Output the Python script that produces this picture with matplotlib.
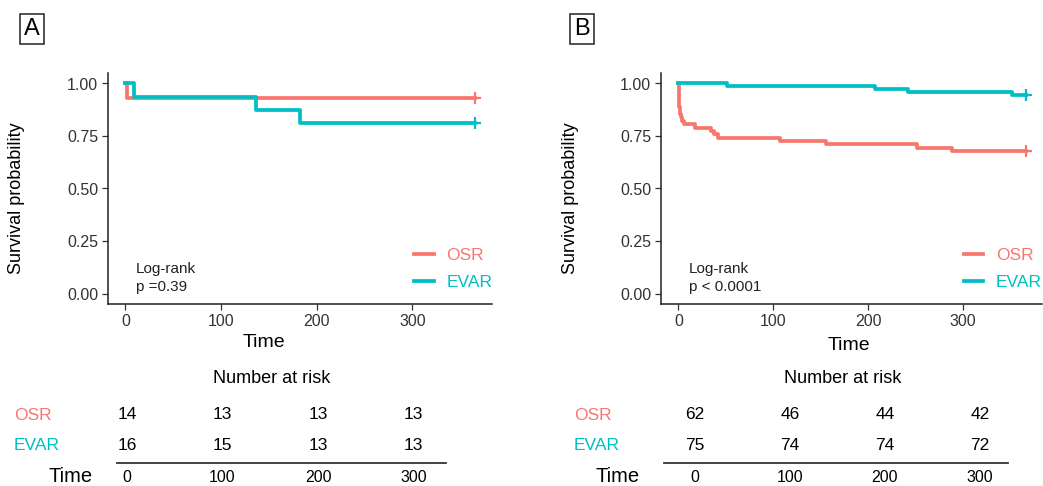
import matplotlib.pyplot as plt

plt.rcParams['font.family'] = ['Liberation Sans', 'DejaVu Sans']

osr_color = '#F8766D'
evar_color = '#00BFC4'

# panel A: survival curves (step points)
osr_a_t = [0, 2, 365]
osr_a_s = [1.0, 0.929, 0.929]
evar_a_t = [0, 9, 137, 182, 365]
evar_a_s = [1.0, 0.9375, 0.875, 0.8125, 0.8125]

# panel B: survival curves (step points)
osr_b_t = [0, 0.5, 1, 2, 3, 4, 6, 18, 34, 38, 42, 107, 156, 251, 288, 366]
osr_b_s = [1.0, 0.935, 0.887, 0.855, 0.839, 0.823, 0.806, 0.790, 0.774,
           0.758, 0.742, 0.726, 0.710, 0.694, 0.677, 0.677]
evar_b_t = [0, 51, 207, 242, 352, 357, 366]
evar_b_s = [1.0, 0.987, 0.973, 0.960, 0.947, 0.945, 0.945]

# number at risk tables
risk_times = [0, 100, 200, 300]
osr_a_risk = [14, 13, 13, 13]
evar_a_risk = [16, 15, 13, 13]
osr_b_risk = [62, 46, 44, 42]
evar_b_risk = [75, 74, 74, 72]

pvals = ['p =0.39', 'p < 0.0001']

W, H = 1043, 486
fig = plt.figure(figsize=(W / 100, H / 100), dpi=100)


def px_axes(left, top, right, bottom):
    return fig.add_axes([left / W, 1 - bottom / H, (right - left) / W, (bottom - top) / H])


def surv_panel(ax, ot, os_, et, es, pval, xlab_x, xlab_y, leg_x):
    ax.step(ot, os_, where='post', color=osr_color, lw=2.7, label='OSR')
    ax.step(et, es, where='post', color=evar_color, lw=2.7, label='EVAR')
    ax.plot(ot[-1], os_[-1], '+', color=osr_color, ms=9, mew=1.6)
    ax.plot(et[-1], es[-1], '+', color=evar_color, ms=9, mew=1.6)
    ax.set_xlim(-18.25, 383.25)
    ax.set_ylim(-0.05, 1.05)
    ax.set_xticks([0, 100, 200, 300])
    ax.set_yticks([0, 0.25, 0.5, 0.75, 1.0])
    ax.set_yticklabels(['0.00', '0.25', '0.50', '0.75', '1.00'])
    for s in ['top', 'right']:
        ax.spines[s].set_visible(False)
    for s in ['left', 'bottom']:
        ax.spines[s].set_linewidth(1.1)
        ax.spines[s].set_color('#222222')
    ax.tick_params(labelsize=11.5, labelcolor='#333333', color='#333333',
                   length=4, width=0.9, pad=3)
    ax.set_xlabel('Time', fontsize=14)
    ax.set_ylabel('Survival probability', fontsize=13)
    ax.xaxis.set_label_coords(xlab_x, xlab_y)
    ax.yaxis.set_label_coords(-0.215, 0.46)
    ax.text(11, 0.0, 'Log-rank\n' + pval, fontsize=11, color='#222222',
            va='bottom', ha='left', linespacing=1.35)
    ax.legend(loc='upper left', bbox_to_anchor=(leg_x, 0.31), frameon=False,
              fontsize=12.5, handlelength=1.15, handletextpad=0.7,
              labelspacing=0.7, labelcolor='linecolor')


def risk_table(left, right, xlim, osr, evar, lab_x, time_x):
    ax = px_axes(left, 395, right, 463)
    ax.set_xlim(*xlim)
    ax.set_ylim(0, 1)
    for s in ['top', 'right', 'left']:
        ax.spines[s].set_visible(False)
    ax.spines['bottom'].set_color('#333333')
    ax.spines['bottom'].set_linewidth(1.3)
    ax.set_yticks([])
    ax.set_xticks(risk_times)
    ax.tick_params(axis='x', length=0, labelsize=11.5, pad=5)
    ax.patch.set_alpha(0)
    for t, a, b in zip(risk_times, osr, evar):
        ax.text(t, 0.71, str(a), ha='center', va='center', fontsize=12.5)
        ax.text(t, 0.26, str(b), ha='center', va='center', fontsize=12.5)
    fig.text(lab_x / W, 1 - 415 / H, 'OSR', color=osr_color, fontsize=12.5,
             ha='left', va='center')
    fig.text(lab_x / W, 1 - 445 / H, 'EVAR', color=evar_color, fontsize=12.5,
             ha='left', va='center')
    fig.text(time_x / W, 1 - 476 / H, 'Time', fontsize=14.5, ha='right', va='center')


axA = px_axes(108, 73, 492, 304)
surv_panel(axA, osr_a_t, osr_a_s, evar_a_t, evar_a_s, pvals[0], 0.406, -0.13, 0.757)
axB = px_axes(661, 73, 1042, 304)
surv_panel(axB, osr_b_t, osr_b_s, evar_b_t, evar_b_s, pvals[1], 0.493, -0.143, 0.753)

risk_table(117, 446, (-10.5, 334), osr_a_risk, evar_a_risk, 14, 93)
risk_table(664, 1008, (-32.6, 329.5), osr_b_risk, evar_b_risk, 574, 640)

fig.text(272 / W, 1 - 378 / H, 'Number at risk', fontsize=13, ha='center', va='center')
fig.text(843 / W, 1 - 378 / H, 'Number at risk', fontsize=13, ha='center', va='center')

for lab, cx in [('A', 32), ('B', 582)]:
    fig.text(cx / W, 1 - 29 / H, lab, fontsize=17, ha='center', va='center',
             bbox=dict(boxstyle='square,pad=0.18', fc='white', ec='#333333', lw=1.2))

fig.savefig('out.png', dpi=100)
